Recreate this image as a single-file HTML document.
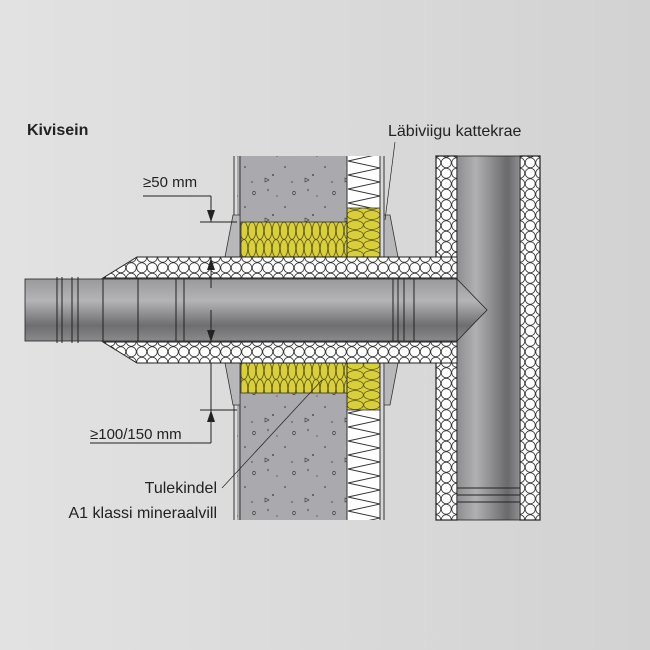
<!DOCTYPE html>
<html><head><meta charset="utf-8"><style>
html,body{margin:0;padding:0;width:650px;height:650px;overflow:hidden}
svg{display:block}
text{font-family:"Liberation Sans",sans-serif;fill:#222}
</style></head><body>
<svg width="650" height="650" viewBox="0 0 650 650" xmlns="http://www.w3.org/2000/svg">
<defs>
<linearGradient id="bg" x1="0" x2="1" y1="0" y2="0"><stop offset="0" stop-color="#e2e2e2"/><stop offset="1" stop-color="#d2d2d2"/></linearGradient>
<linearGradient id="hp" x1="0" x2="0" y1="0" y2="1"><stop offset="0" stop-color="#9a9a9c"/><stop offset="0.35" stop-color="#b4b4b6"/><stop offset="0.75" stop-color="#6e6e70"/><stop offset="1" stop-color="#8a8a8c"/></linearGradient>
<linearGradient id="vp" x1="0" x2="1" y1="0" y2="0"><stop offset="0" stop-color="#8e8e90"/><stop offset="0.3" stop-color="#b0b0b2"/><stop offset="0.8" stop-color="#6a6a6c"/><stop offset="1" stop-color="#909092"/></linearGradient>
<pattern id="ins" width="10.5" height="10.5" patternUnits="userSpaceOnUse"><rect width="10.5" height="10.5" fill="#fff"/><circle cx="5.25" cy="5.25" r="5" fill="none" stroke="#333" stroke-width="0.8"/></pattern>
<pattern id="yel" width="8" height="35" patternUnits="userSpaceOnUse" y="222"><rect width="8" height="35" fill="#d8cf3a"/><ellipse cx="4" cy="8.75" rx="3.8" ry="8.6" fill="none" stroke="#5a5418" stroke-width="0.8"/><ellipse cx="4" cy="26.25" rx="3.8" ry="8.6" fill="none" stroke="#5a5418" stroke-width="0.8"/></pattern>
<pattern id="yel2" width="33" height="10" patternUnits="userSpaceOnUse" x="347"><rect width="33" height="10" fill="#d8cf3a"/><ellipse cx="8.25" cy="5" rx="8.1" ry="4.5" fill="none" stroke="#5a5418" stroke-width="0.8"/><ellipse cx="24.75" cy="5" rx="8.1" ry="4.5" fill="none" stroke="#5a5418" stroke-width="0.8"/></pattern>
<pattern id="con" width="40" height="40" patternUnits="userSpaceOnUse"><rect width="40" height="40" fill="#aaaaae"/><g fill="#333"><circle cx="5" cy="7" r="0.8"/><circle cx="33" cy="15" r="0.9"/><circle cx="12" cy="22" r="0.7"/><circle cx="28" cy="30" r="0.8"/><circle cx="37" cy="36" r="0.6"/></g><g fill="none" stroke="#333" stroke-width="0.6"><path d="M25 18 l4 2 l-4 2z"/><ellipse cx="14" cy="33" rx="1.3" ry="1.8"/></g></pattern>
<pattern id="zz" width="33" height="14" patternUnits="userSpaceOnUse" x="347"><rect width="33" height="14" fill="#fff"/><polyline points="33,0 1,7 33,14" fill="none" stroke="#333" stroke-width="0.9"/></pattern>
</defs>
<rect width="650" height="650" fill="url(#bg)"/>
<text x="27" y="135" font-size="16" font-weight="bold">Kivisein</text>
<text x="388" y="136" font-size="16">Läbiviigu kattekrae</text>

<rect x="237" y="156" width="110" height="66" fill="url(#con)"/>
<rect x="237" y="393" width="110" height="127" fill="url(#con)"/>
<rect x="347" y="156" width="33" height="52" fill="url(#zz)"/>
<rect x="347" y="410" width="33" height="110" fill="url(#zz)"/>
<rect x="241" y="222" width="106" height="35" fill="url(#yel)" stroke="#333" stroke-width="0.8"/>
<rect x="241" y="363" width="106" height="30" fill="url(#yel)" stroke="#333" stroke-width="0.8"/>
<rect x="347" y="208" width="33" height="49" fill="url(#yel2)" stroke="#333" stroke-width="0.8"/>
<rect x="347" y="363" width="33" height="47" fill="url(#yel2)" stroke="#333" stroke-width="0.8"/>
<g stroke="#333" stroke-width="1" fill="none">
<line x1="234" y1="156" x2="234" y2="520"/><line x1="240" y1="156" x2="240" y2="520"/>
<line x1="347" y1="156" x2="347" y2="520"/><line x1="380" y1="156" x2="380" y2="520"/><line x1="384" y1="156" x2="384" y2="520"/>
</g>
<g fill="#b8b8ba" stroke="#333" stroke-width="0.8">
<polygon points="233,215 240,215 240,257 225,257"/>
<polygon points="233,405 240,405 240,363 225,363"/>
<polygon points="384,215 390,215 398,257 384,257"/>
<polygon points="384,405 390,405 398,363 384,363"/>
</g>

<rect x="436" y="156" width="21" height="364" fill="url(#ins)" stroke="#222" stroke-width="1.2"/>
<rect x="520" y="156" width="20" height="364" fill="url(#ins)" stroke="#222" stroke-width="1.2"/>
<rect x="457" y="156" width="63" height="364" fill="url(#vp)" stroke="#222" stroke-width="0.8"/>
<g stroke="#222" stroke-width="1"><line x1="457" y1="488" x2="520" y2="488"/><line x1="457" y1="495" x2="520" y2="495"/><line x1="457" y1="502" x2="520" y2="502"/></g>

<polygon points="137,257 457,257 457,278 103,278" fill="url(#ins)" stroke="#222" stroke-width="1"/>
<polygon points="103,342 457,342 457,363 137,363" fill="url(#ins)" stroke="#222" stroke-width="1"/>
<rect x="25" y="279" width="432" height="62" fill="url(#hp)" stroke="#222" stroke-width="0.8"/>
<polygon points="457,279 487,310 457,341" fill="url(#hp)" stroke="#222" stroke-width="0.8"/>
<g stroke="#222" stroke-width="1" fill="none">
<line x1="57" y1="277" x2="57" y2="343"/><line x1="62" y1="277" x2="62" y2="343"/>
<line x1="72" y1="277" x2="72" y2="343"/><line x1="78" y1="277" x2="78" y2="343"/>
<line x1="103" y1="279" x2="103" y2="341"/><line x1="138" y1="279" x2="138" y2="341"/>
<line x1="176" y1="279" x2="176" y2="341"/><line x1="184" y1="279" x2="184" y2="341"/>
<line x1="393" y1="279" x2="393" y2="341"/><line x1="398" y1="279" x2="398" y2="341"/><line x1="404" y1="279" x2="404" y2="341"/><line x1="414" y1="279" x2="414" y2="341"/>
</g>

<g stroke="#222" stroke-width="1" fill="none">
<line x1="143" y1="196" x2="211" y2="196"/><line x1="211" y1="196" x2="211" y2="222"/>
<line x1="200" y1="222" x2="237" y2="222"/><line x1="211" y1="257" x2="211" y2="288"/>
<line x1="211" y1="310" x2="211" y2="342"/>
<line x1="200" y1="410" x2="237" y2="410"/><line x1="211" y1="363" x2="211" y2="443"/><line x1="90" y1="443" x2="211" y2="443"/>
<line x1="395" y1="142" x2="385" y2="220" stroke-width="0.7"/>
<line x1="222" y1="488" x2="322" y2="380" stroke-width="0.7"/>
</g>
<g fill="#222">
<polygon points="207,210 215,210 211,222"/>
<polygon points="207,270 215,270 211,258"/>
<polygon points="207,330 215,330 211,342"/>
<polygon points="207,422 215,422 211,410"/>
</g>
<text x="143" y="187" font-size="15">≥50 mm</text>
<text x="90" y="439" font-size="15">≥100/150 mm</text>
<text x="217" y="493" font-size="16" text-anchor="end">Tulekindel</text>
<text x="217" y="518" font-size="16" text-anchor="end">A1 klassi mineraalvill</text>
</svg>
</body></html>
